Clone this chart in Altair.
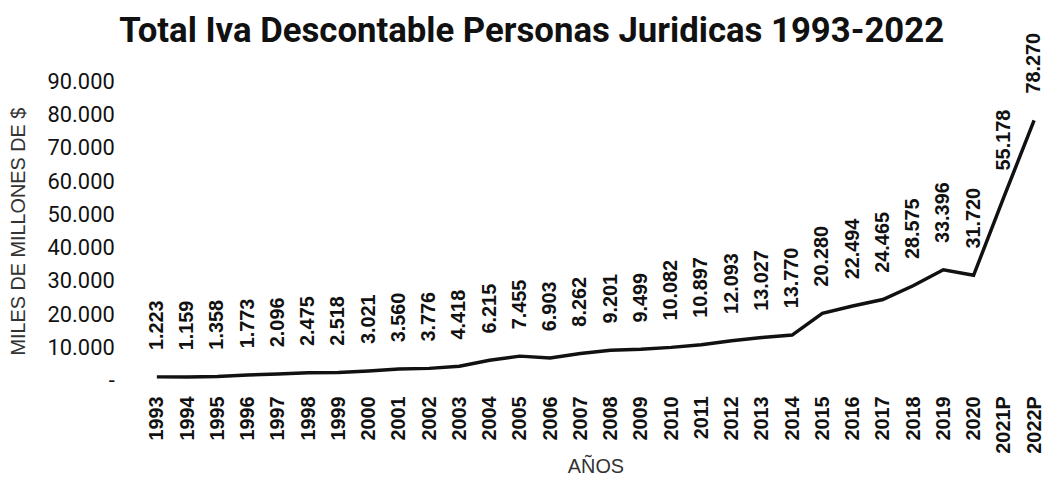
import altair as alt
import pandas as pd

title_text = "Total Iva Descontable Personas Juridicas 1993-2022"
years = ["1993", "1994", "1995", "1996", "1997", "1998", "1999", "2000", "2001", "2002",
         "2003", "2004", "2005", "2006", "2007", "2008", "2009", "2010", "2011", "2012",
         "2013", "2014", "2015", "2016", "2017", "2018", "2019", "2020", "2021P", "2022P"]
values = [1223, 1159, 1358, 1773, 2096, 2475, 2518, 3021, 3560, 3776,
          4418, 6215, 7455, 6903, 8262, 9201, 9499, 10082, 10897, 12093,
          13027, 13770, 20280, 22494, 24465, 28575, 33396, 31720, 55178, 78270]
y_ticks = [0, 10000, 20000, 30000, 40000, 50000, 60000, 70000, 80000, 90000]

labels = [f"{v:,}".replace(",", ".") for v in values]
df = pd.DataFrame({"year": years, "value": values, "label": labels})

W, H = 898, 302
PAD_L, PAD_T = 142, 72

x_enc = alt.X(
    "year:N", sort=years,
    scale=alt.Scale(type="point", range=[8, 892], padding=0),
    axis=alt.Axis(
        title="AÑOS", labelAngle=-90, labelFont="Liberation Sans", labelFontWeight="bold",
        labelFontSize=20, labelColor="#111111", labelPadding=15, ticks=False, domain=False,
        grid=False, labelOverlap=False,
        titleFont="Liberation Sans", titleFontSize=20, titleFontWeight="normal",
        titleColor="#333333", titleY=96, titleBaseline="bottom",
    ),
)
y_enc = alt.Y(
    "value:Q",
    scale=alt.Scale(domain=[0, 90000], nice=False, zero=True),
    axis=alt.Axis(
        title="MILES DE MILLONES DE $", values=y_ticks, labelOverlap=False,
        labelExpr="datum.value == 0 ? '-\u00a0\u00a0' : replace(format(datum.value, ','), ',', '.')",
        labelFont="Roboto", labelFontSize=22, labelColor="#111111", labelPadding=35,
        ticks=False, domain=False, grid=False,
        titleFont="Liberation Sans", titleFontSize=20, titleFontWeight="normal",
        titleColor="#333333", titleX=-131, titleY=H / 2, titleAngle=-90,
        titleAlign="center", titleBaseline="middle",
    ),
)

line = alt.Chart(df).mark_line(color="#111111", strokeWidth=3.5).encode(x=x_enc, y=y_enc)
text = alt.Chart(df).mark_text(
    angle=270, align="left", baseline="middle", dx=27,
    font="Liberation Sans", fontWeight="bold", fontSize=20, color="#111111",
).encode(x=x_enc, y=y_enc, text="label:N")

title = alt.Chart(pd.DataFrame({"t": [title_text]})).mark_text(
    align="left", baseline="alphabetic",
    font="Roboto", fontSize=35, fontWeight="bold", color="#111111",
).encode(x=alt.value(-30), y=alt.value(-40), text="t:N")

chart = alt.layer(line, text, title).properties(
    width=W, height=H,
    autosize=alt.AutoSizeParams(type="none"),
    padding={"left": PAD_L, "top": PAD_T, "right": 5, "bottom": 100},
    background="white",
).configure_view(stroke=None).configure_axis(labelOverlap=False)

chart.save("out.html", embed_options={"renderer": "svg", "actions": False})
